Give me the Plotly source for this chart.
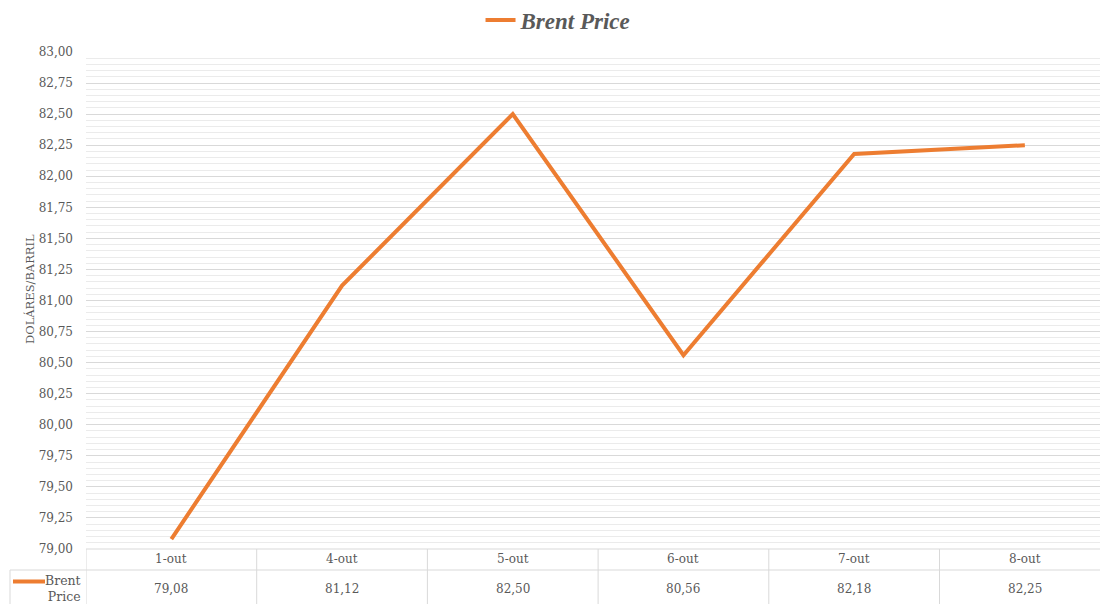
import plotly.graph_objects as go

categories = ["1-out", "4-out", "5-out", "6-out", "7-out", "8-out"]
values = [79.08, 81.12, 82.50, 80.56, 82.18, 82.25]
series_name = "Brent Price"
y_title = "DOLÁRES/BARRIL"

ORANGE = "#ED7D31"
GRAY = "#595959"
GRID = "#d9d9d9"
MINOR = "#ebebeb"
FONT = "DejaVu Serif"

W, H = 1100, 604
L, T, B = 86, 52, 55
plot_w = W - L
plot_h = H - T - B
col_w = 170.7

def fmt(v):
    return f"{v:.2f}".replace(".", ",")

n = len(categories)
idx = list(range(n))
x_max = -0.5 + plot_w / col_w

fig = go.Figure()
fig.add_trace(go.Scatter(
    x=idx, y=values, mode="lines", name=series_name,
    line=dict(color=ORANGE, width=4), hoverinfo="skip",
))

def py(pix):
    return (H - B - pix) / plot_h

def px(pix):
    return (pix - L) / plot_w

shapes = []
shapes.append(dict(type="line", xref="paper", yref="paper", x0=0, x1=1, y0=py(549), y1=py(549),
                   line=dict(color=GRID, width=1)))
shapes.append(dict(type="line", xref="paper", yref="paper", x0=px(10), x1=1, y0=py(570), y1=py(570),
                   line=dict(color=GRID, width=1)))
for i in range(n + 1):
    xb = i - 0.5
    if xb > x_max:
        continue
    shapes.append(dict(type="line", xref="x", yref="paper", x0=xb, x1=xb, y0=py(549), y1=py(610),
                       line=dict(color=GRID, width=1)))
shapes.append(dict(type="line", xref="paper", yref="paper", x0=px(10), x1=px(10), y0=py(570), y1=py(610),
                   line=dict(color=GRID, width=1)))
shapes.append(dict(type="line", xref="paper", yref="paper", x0=px(13), x1=px(45), y0=py(581.5), y1=py(581.5),
                   line=dict(color=ORANGE, width=4)))

annotations = []
for i, (c, v) in enumerate(zip(categories, values)):
    annotations.append(dict(x=i, xref="x", y=py(559), yref="paper", text=c, showarrow=False,
                            font=dict(family=FONT, size=12, color=GRAY), xanchor="center", yanchor="middle"))
    annotations.append(dict(x=i, xref="x", y=py(589), yref="paper", text=fmt(v), showarrow=False,
                            font=dict(family=FONT, size=12, color=GRAY), xanchor="center", yanchor="middle"))
annotations.append(dict(x=px(83), xref="paper", y=py(588), yref="paper", text="Brent<br>Price",
                        showarrow=False, align="right", xanchor="right", yanchor="middle",
                        font=dict(family=FONT, size=12.5, color=GRAY)))
annotations.append(dict(x=px(30), xref="paper", y=py(289), yref="paper", text=y_title, textangle=-90,
                        showarrow=False, xanchor="center", yanchor="middle",
                        font=dict(family=FONT, size=11.5, color=GRAY)))

tickvals = [79 + 0.25 * k for k in range(17)]
fig.update_layout(
    width=W, height=H,
    margin=dict(l=L, r=0, t=T, b=B, autoexpand=False),
    paper_bgcolor="white", plot_bgcolor="white",
    showlegend=True,
    legend=dict(orientation="h", x=0.466, xanchor="center", y=py(20), yanchor="middle",
                font=dict(family="Liberation Serif", size=23, color=GRAY, weight="bold", style="italic"),
                bgcolor="rgba(0,0,0,0)"),
    xaxis=dict(range=[-0.5, x_max], showticklabels=False, showgrid=False, zeroline=False,
               showline=False, ticks=""),
    yaxis=dict(range=[79, 83], tickvals=tickvals, ticktext=[fmt(t) for t in tickvals],
               showgrid=True, gridcolor=GRID, gridwidth=1, zeroline=False, showline=False,
               ticks="", ticklabelstandoff=12,
               tickfont=dict(family=FONT, size=12, color=GRAY),
               minor=dict(dtick=0.05, showgrid=True, gridcolor=MINOR, gridwidth=1)),
    shapes=shapes,
    annotations=annotations,
)

fig.write_html("out.html", config={"displayModeBar": False},
               post_script="document.body.style.margin='0';document.body.style.overflow='hidden';")
